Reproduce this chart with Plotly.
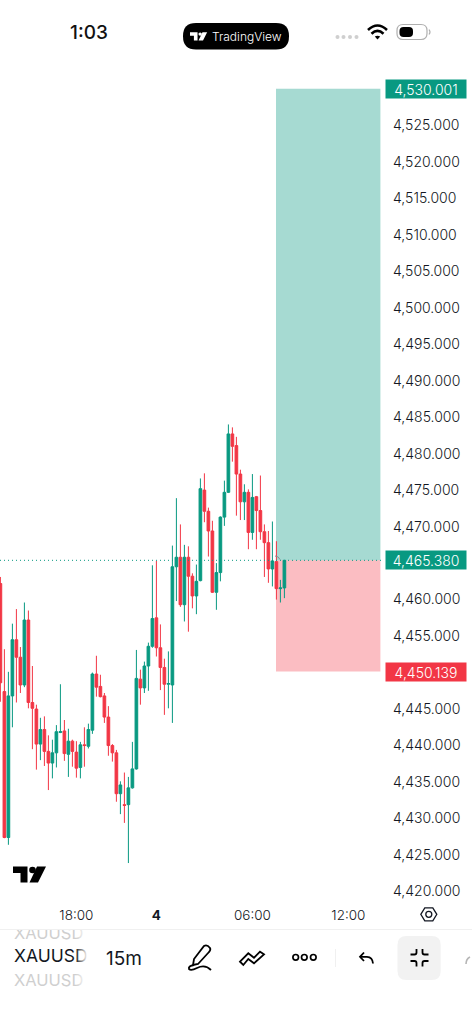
import plotly.graph_objects as go

# 15-minute XAUUSD candles, oldest first
opens = [4462.2, 4447.4, 4427.4, 4446.8, 4454.5, 4452.1, 4448.3, 4457.2, 4445.9, 4445.0,
         4440.2, 4442.2, 4439.2, 4437.6, 4439.0, 4441.8, 4442.0, 4438.8, 4440.6, 4439.1,
         4437.0, 4440.1, 4439.9, 4442.1, 4449.8, 4448.1, 4446.8, 4443.9, 4440.0, 4439.0,
         4433.4, 4431.9, 4431.9, 4434.2, 4436.8, 4449.1, 4447.9, 4450.9, 4453.6, 4457.5,
         4453.4, 4450.7, 4448.4, 4448.3, 4464.5, 4465.8, 4459.3, 4465.8, 4463.2, 4460.5,
         4462.6, 4475.0, 4472.1, 4469.4, 4461.0, 4463.7, 4471.3, 4474.7, 4482.7, 4481.1,
         4477.2, 4473.4, 4474.7, 4469.2, 4474.1, 4472.2, 4469.3, 4467.8, 4464.2, 4465.2,
         4461.5, 4461.6]
highs = [4463.1, 4453.2, 4450.1, 4456.7, 4458.7, 4453.5, 4459.6, 4458.5, 4450.9, 4445.6,
         4443.8, 4444.0, 4441.4, 4440.8, 4442.8, 4448.4, 4443.5, 4442.3, 4440.8, 4440.6,
         4440.5, 4442.5, 4443.0, 4450.0, 4452.3, 4449.7, 4447.2, 4445.4, 4440.2, 4439.4,
         4435.1, 4436.3, 4435.7, 4440.5, 4453.1, 4450.4, 4451.5, 4454.1, 4464.7, 4465.3,
         4456.6, 4451.9, 4452.9, 4467.4, 4473.9, 4470.3, 4467.5, 4467.3, 4463.6, 4464.8,
         4476.6, 4477.3, 4472.6, 4470.8, 4465.0, 4471.4, 4476.3, 4484.0, 4483.6, 4482.3,
         4477.8, 4475.8, 4475.1, 4477.2, 4474.2, 4477.0, 4470.3, 4469.4, 4470.7, 4468.0,
         4462.7, 4465.4]
lows = [4446.0, 4427.3, 4426.4, 4442.5, 4445.9, 4447.2, 4448.0, 4445.1, 4439.5, 4436.7,
        4438.0, 4437.2, 4433.9, 4435.5, 4437.0, 4441.7, 4437.9, 4435.7, 4437.1, 4435.6,
        4435.5, 4437.1, 4439.6, 4441.6, 4446.7, 4446.6, 4443.1, 4438.6, 4437.8, 4432.3,
        4430.6, 4429.4, 4423.9, 4434.1, 4436.7, 4445.6, 4447.2, 4447.5, 4453.4, 4452.2,
        4447.6, 4444.2, 4445.1, 4443.1, 4459.8, 4459.0, 4457.0, 4455.6, 4458.8, 4458.0,
        4462.5, 4470.6, 4465.9, 4460.9, 4458.6, 4462.5, 4470.1, 4474.6, 4478.9, 4471.5,
        4470.9, 4470.9, 4466.9, 4468.2, 4466.9, 4468.2, 4463.1, 4462.3, 4461.8, 4460.0,
        4459.6, 4460.2]
closes = [4448.6, 4427.4, 4446.8, 4454.5, 4452.1, 4448.3, 4457.2, 4445.9, 4445.1, 4440.2,
          4442.2, 4439.2, 4437.6, 4439.0, 4441.9, 4441.9, 4438.9, 4440.6, 4439.2, 4436.9,
          4440.1, 4440.0, 4442.2, 4449.8, 4448.0, 4446.7, 4443.9, 4440.0, 4439.0, 4433.4,
          4434.6, 4431.8, 4434.2, 4436.8, 4449.2, 4447.9, 4450.9, 4453.6, 4457.4, 4453.4,
          4450.7, 4448.4, 4448.5, 4464.5, 4465.8, 4459.3, 4465.8, 4463.2, 4460.5, 4462.5,
          4475.2, 4472.1, 4469.4, 4461.0, 4463.7, 4471.3, 4474.7, 4482.7, 4481.0, 4477.2,
          4473.4, 4474.7, 4469.2, 4474.0, 4472.2, 4469.3, 4467.8, 4464.2, 4465.3, 4461.5,
          4461.6, 4465.38]

price_ticks = [4525, 4520, 4515, 4510, 4505, 4500, 4495, 4490, 4485, 4480, 4475, 4470,
               4460, 4455, 4445, 4440, 4435, 4430, 4425, 4420]
time_tick_bars = [19, 39, 63, 87]
time_tick_labels = ["18:00", "<b>4</b>", "06:00", "12:00"]

take_profit = 4530.001
entry_price = 4465.380
stop_loss = 4450.139
position_start_bar = 68.9
position_end_bar = 95

GREEN = "#089981"
RED = "#F23645"
INK = "#131722"
FONT = "Inter"
LIGHT = 350


def line(path, color="#000000", width=2.0, fill=None):
    """Interface glyph drawn in screen-pixel space on the overlay axes."""
    return dict(type="path", xref="x2", yref="y2", path=path, layer="above",
                line=dict(color=color, width=width),
                fillcolor=fill or "rgba(0,0,0,0)")


def disc(cx, cy, r, color="#000000", width=0.0, fill="#000000"):
    return dict(type="circle", xref="x2", yref="y2", layer="above",
                x0=cx - r, x1=cx + r, y0=cy - r, y1=cy + r,
                line=dict(color=color, width=width), fillcolor=fill)


def rounded(x0, y0, x1, y1, r):
    return (f"M{x0+r},{y0} L{x1-r},{y0} Q{x1},{y0} {x1},{y0+r} L{x1},{y1-r} Q{x1},{y1} {x1-r},{y1} "
            f"L{x0+r},{y1} Q{x0},{y1} {x0},{y1-r} L{x0},{y0+r} Q{x0},{y0} {x0+r},{y0} Z")


def logo(ox, oy, s, color):
    """TradingView mark: ox/oy is its top-left corner, s its scale."""
    px = lambda x, y: f"{ox + x * s:.2f},{oy + y * s:.2f}"
    bar = "M" + " L".join(px(x, y) for x, y in [(0, 0), (14.5, 0), (14.5, 16), (7.5, 16), (7.5, 6.5), (0, 6.5)]) + " Z"
    slash = "M" + " L".join(px(x, y) for x, y in [(24, 0), (33, 0), (25, 16), (16.5, 16)]) + " Z"
    return [line(bar, color, 0, color), line(slash, color, 0, color),
            disc(ox + 19.5 * s, oy + 3.5 * s, 3.3 * s, color, 0, color)]


fig = go.Figure()

fig.add_trace(go.Candlestick(
    x=list(range(len(opens))), open=opens, high=highs, low=lows, close=closes,
    increasing=dict(line=dict(color=GREEN, width=1), fillcolor=GREEN),
    decreasing=dict(line=dict(color=RED, width=1), fillcolor=RED),
    whiskerwidth=0, xaxis="x", yaxis="y", showlegend=False, hoverinfo="skip",
))

# Symbol ticker rows; white strips on top fade them out at the right edge
fig.add_trace(go.Scatter(
    x=[14, 14, 14], y=[935, 958, 982], mode="text", xaxis="x2", yaxis="y2",
    text=["XAUUSD", "XAUUSD", "XAUUSD"], textposition="middle right",
    textfont=dict(family=FONT, size=[16.5, 17.5, 16.5], color=["#cfcfcf", "#131722", "#cfcfcf"]),
    showlegend=False, hoverinfo="skip", cliponaxis=False,
))

shapes = [
    # Long position: reward and risk zones
    dict(type="rect", xref="x", yref="y", layer="below", x0=position_start_bar, x1=position_end_bar,
         y0=entry_price, y1=take_profit, fillcolor="rgba(8,153,129,0.36)", line_width=0),
    dict(type="rect", xref="x", yref="y", layer="below", x0=position_start_bar, x1=position_end_bar,
         y0=stop_loss, y1=entry_price, fillcolor="rgba(242,54,69,0.33)", line_width=0),
    # Last-price line
    dict(type="line", xref="paper", yref="y", layer="above", x0=0, x1=382 / 472,
         y0=entry_price, y1=entry_price, line=dict(color=GREEN, width=1, dash="1px,3px")),
]

# Fade and clip of the ticker text
for i, x in enumerate(range(76, 88)):
    shapes.append(dict(type="rect", xref="x2", yref="y2", layer="above", x0=x, x1=x + 1,
                       y0=926, y1=995, fillcolor=f"rgba(255,255,255,{(i + 1) / 12:.3f})", line_width=0))
shapes.append(dict(type="rect", xref="x2", yref="y2", layer="above", x0=87, x1=100,
                   y0=926, y1=995, fillcolor="#FFFFFF", line_width=0))
shapes.append(dict(type="rect", xref="x2", yref="y2", layer="above", x0=0, x1=100,
                   y0=920, y1=930, fillcolor="#FFFFFF", line_width=0))

# Drag handle beside the entry level
shapes.append(line("M275,556 Q278.5,556 280,559.5", "#8A8F94", 1))

# Status bar
shapes.append(line(rounded(183, 23, 289, 49.5, 13), "#000000", 0, "#000000"))
shapes += logo(190, 32.3, 0.52, "#FFFFFF")
for cx in (337.5, 343.5, 350, 356.5):
    shapes.append(disc(cx, 37, 2, "#CFCFCF", 0, "#CFCFCF"))
shapes.append(line("M368,30 Q377.5,21 387,30", "#000000", 2.6))
shapes.append(line("M371.5,33.7 Q377.5,28 383.5,33.7", "#000000", 2.6))
shapes.append(line("M374.8,36.6 L377.5,39.5 L380.2,36.6 Q377.5,35 374.8,36.6 Z", "#000000", 0, "#000000"))
shapes.append(line(rounded(397, 24.5, 427, 39.5, 6), "#AFAFAF", 1.2))
shapes.append(line(rounded(399.5, 27, 413, 37, 4), "#000000", 0, "#000000"))
shapes.append(line("M429,29.5 Q431,32 429,34.5", "#AFAFAF", 1.2))

# Chart settings glyph and watermark
shapes.append(line("M420.8,914.3 L424.8,907.8 L432.8,907.8 L436.8,914.3 L432.8,920.8 L424.8,920.8 Z", INK, 1.3))
shapes.append(disc(428.8, 914.3, 3, INK, 1.3, "rgba(0,0,0,0)"))
shapes += logo(13, 866.5, 1.0, "#000000")

# Toolbar
shapes.append(dict(type="line", xref="x2", yref="y2", layer="above", x0=0, x1=472, y0=929.5, y1=929.5,
                   line=dict(color="#F0F0F0", width=1)))
shapes.append(line("M204,946 Q207,944 210,948 Q211,950 209,952 L198,964 L193,965 L194,959 Z", "#000000", 1.8))
shapes.append(line("M194,965 Q188,966 189,969 Q191,971 197,968 Q205,964 211,970", "#000000", 1.8))
shapes.append(line("M240,961.7 L248.3,953.3 L254,957.7 L260,951.7 L264,954.3 L254,963.3 L248.3,959 L243.3,965 Z", "#000000", 1.8))
for cx in (295.7, 304.3, 313.3):
    shapes.append(disc(cx, 957.3, 2.8, "#000000", 1.7, "rgba(0,0,0,0)"))
shapes.append(dict(type="line", xref="x2", yref="y2", layer="above", x0=335.5, x1=335.5, y0=949, y1=967,
                   line=dict(color="#F0F0F0", width=1)))
shapes.append(line("M364,952.5 L360,956.8 L364,961", "#000000", 1.8))
shapes.append(line("M360,956.8 L367,956.8 Q372.5,957 373,963.5", "#000000", 1.8))
shapes.append(line(rounded(397.5, 936, 440.7, 980, 9), "#F2F2F2", 0, "#F2F2F2"))
for seg in ("M410.5,954.5 L414.5,954.5 Q416.5,954.5 416.5,952.5 L416.5,949",
            "M428.5,954.5 L424.5,954.5 Q422.5,954.5 422.5,952.5 L422.5,949",
            "M410.5,961 L414.5,961 Q416.5,961 416.5,963 L416.5,966.5",
            "M428.5,961 L424.5,961 Q422.5,961 422.5,963 L422.5,966.5"):
    shapes.append(line(seg, "#000000", 1.8))
shapes.append(line("M466,964 Q466,959 470,957", "#B5B5B5", 1.6))


def text(x, y, s, size, color=INK, anchor="left", weight=400):
    return dict(xref="x2", yref="y2", x=x, y=y, text=s, showarrow=False, xanchor=anchor, yanchor="middle",
                font=dict(family=FONT, size=size, color=color, weight=weight), borderpad=0)


def badge(value, fill):
    return dict(xref="x2", yref="y", x=425.5, y=value, text=f"{value:,.3f}", showarrow=False,
                xanchor="center", yanchor="middle", font=dict(family=FONT, size=14, color="#FFFFFF", weight=LIGHT),
                bgcolor=fill, width=80, height=18, borderpad=0)


annotations = [
    text(88.5, 32.5, "1:03", 19, "#111111", "center", 500),
    text(247, 36.5, "TradingView", 12, "#FFFFFF", "center", LIGHT),
    text(124, 958.5, "15m", 19, "#131722", "center"),
]
for value, fill in ((take_profit, GREEN), (entry_price, GREEN), (stop_loss, RED)):
    annotations.append(badge(value, fill))

fig.update_layout(
    width=472, height=1024, margin=dict(l=0, r=0, t=0, b=0),
    paper_bgcolor="#FFFFFF", plot_bgcolor="rgba(0,0,0,0)",
    showlegend=False, shapes=shapes, annotations=annotations, boxgap=0.05,
    font=dict(family=FONT, color=INK),
    xaxis=dict(domain=[0, 384 / 472], range=[-0.1, 95.9], anchor="y", rangeslider=dict(visible=False),
               tickvals=time_tick_bars, ticktext=time_tick_labels,
               tickfont=dict(family=FONT, size=13.5, color=INK, weight=LIGHT),
               showgrid=False, zeroline=False, showline=False, ticks="", fixedrange=True),
    yaxis=dict(domain=[1 - 905 / 1024, 1], range=[4418.15, 4542.16], anchor="x", side="right",
               tickvals=price_ticks, tickformat=",.3f",
               tickfont=dict(family=FONT, size=14, color=INK, weight=LIGHT),
               ticklabelstandoff=8, showgrid=False, zeroline=False, showline=False, ticks="", fixedrange=True),
    xaxis2=dict(domain=[0, 1], range=[0, 472], anchor="y2", visible=False, fixedrange=True),
    yaxis2=dict(domain=[0, 1], range=[1024, 0], anchor="x2", visible=False, fixedrange=True),
)

fig.write_html("out.html")
